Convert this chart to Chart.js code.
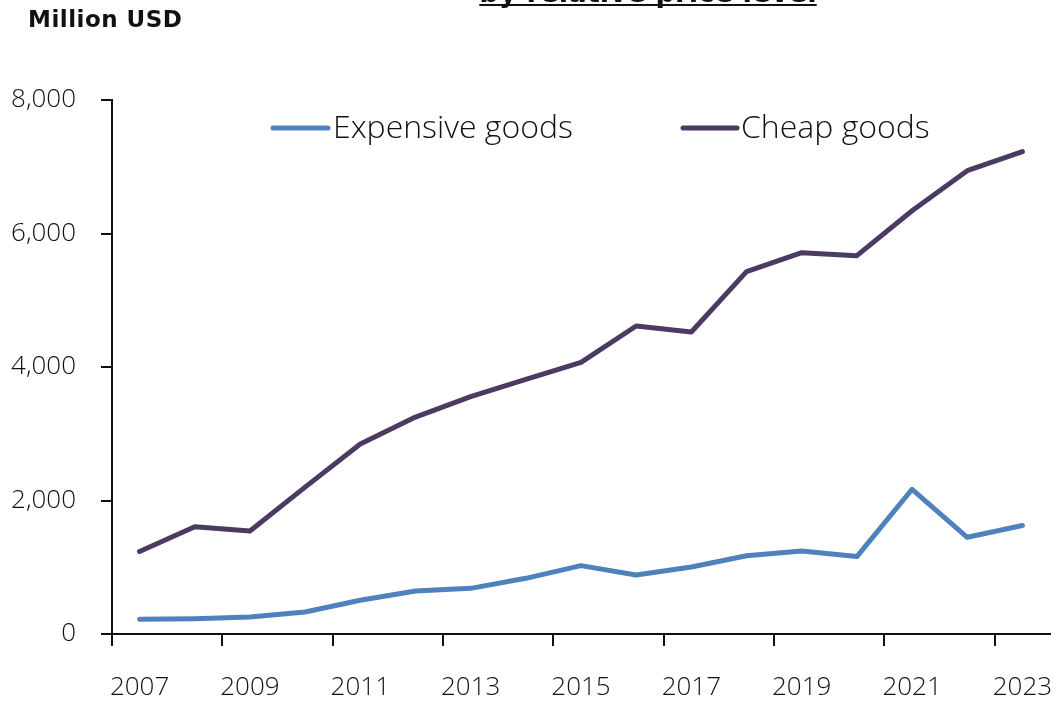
<!DOCTYPE html>
<html>
<head>
<meta charset="utf-8">
<script src="https://cdn.jsdelivr.net/npm/chart.js@4/dist/chart.umd.min.js"></script>
<style>
  html, body { margin: 0; padding: 0; background: #ffffff; }
  #wrap { position: relative; width: 1056px; height: 702px; }
</style>
</head>
<body>
<div id="wrap"><canvas id="c" width="1056" height="702"></canvas></div>
<script>
// Yearly import values (million USD), split by relative price level
const years = ['2007','2008','2009','2010','2011','2012','2013','2014','2015',
               '2016','2017','2018','2019','2020','2021','2022','2023'];
const expensiveGoods = [220, 230, 255, 330, 505, 644, 684, 834, 1024,
                        884, 1004, 1173, 1243, 1160, 2168, 1449, 1625];
const cheapGoods = [1235, 1607, 1543, 2200, 2846, 3250, 3555, 3816, 4070,
                    4614, 4525, 5428, 5713, 5668, 6340, 6941, 7226];
const yTicks = [0, 2000, 4000, 6000, 8000];

const seriesNames = ['Expensive goods', 'Cheap goods'];
const seriesColors = ['#4F81BD', '#4B3A62'];

const FONT = '"Open Sans", "Noto Sans", sans-serif';
const BOLD_FONT = '"DejaVu Sans", "Open Sans", sans-serif';
const INK = '#111111';

// Heading line, unit caption and inline legend drawn on the canvas
const decorations = {
  id: 'decorations',
  afterDraw(chart) {
    const ctx = chart.ctx;
    ctx.save();
    // heading (runs off the top edge of the canvas)
    ctx.font = 'bold 27.5px ' + BOLD_FONT;
    ctx.fillStyle = INK;
    ctx.textAlign = 'center';
    ctx.textBaseline = 'alphabetic';
    const title = 'by relative price level';
    const tx = 648, ty = 2;
    ctx.fillText(title, tx, ty);
    const tw = ctx.measureText(title).width;
    ctx.fillRect(tx - tw / 2, 4, tw, 2);

    // unit caption
    ctx.font = 'bold 23px ' + BOLD_FONT;
    ctx.textAlign = 'left';
    if ('letterSpacing' in ctx) ctx.letterSpacing = '0.5px';
    ctx.fillText('Million USD', 28, 27);
    if ('letterSpacing' in ctx) ctx.letterSpacing = '0px';

    // legend
    const items = [
      { x0: 273, x1: 328, tx: 333 },
      { x0: 683, x1: 737, tx: 741 }
    ];
    const ly = 128;
    ctx.font = '300 32px ' + FONT;
    ctx.textBaseline = 'middle';
    chart.data.datasets.forEach((ds, i) => {
      const it = items[i];
      ctx.strokeStyle = ds.borderColor;
      ctx.lineWidth = 5;
      ctx.lineCap = 'round';
      ctx.beginPath();
      ctx.moveTo(it.x0, ly);
      ctx.lineTo(it.x1, ly);
      ctx.stroke();
      ctx.fillStyle = INK;
      ctx.fillText(ds.label, it.tx, ly + 1);
    });
    ctx.restore();
  }
};

new Chart(document.getElementById('c'), {
  type: 'line',
  data: {
    labels: years,
    datasets: [
      { label: seriesNames[0], data: expensiveGoods, borderColor: seriesColors[0],
        backgroundColor: seriesColors[0], borderWidth: 5, pointRadius: 0,
        borderCapStyle: 'round', borderJoinStyle: 'round', tension: 0 },
      { label: seriesNames[1], data: cheapGoods, borderColor: seriesColors[1],
        backgroundColor: seriesColors[1], borderWidth: 5, pointRadius: 0,
        borderCapStyle: 'round', borderJoinStyle: 'round', tension: 0 }
    ]
  },
  options: {
    responsive: false,
    animation: false,
    devicePixelRatio: 1,
    layout: { padding: { top: 100, right: 6, bottom: 0, left: 0 } },
    plugins: {
      legend: { display: false },
      title: { display: false },
      tooltip: { enabled: false }
    },
    scales: {
      x: {
        type: 'category',
        offset: true,
        border: { display: true, color: INK, width: 2 },
        grid: {
          offset: true,
          drawOnChartArea: false,
          drawTicks: true,
          tickLength: 12,
          lineWidth: 2,
          color: (ctx) => (ctx.index % 2 === 0 ? INK : 'rgba(0,0,0,0)')
        },
        ticks: {
          autoSkip: false,
          maxRotation: 0,
          padding: 26,
          color: INK,
          font: { family: FONT, size: 26, weight: 300 },
          callback: function (v, i) { return i % 2 === 0 ? this.getLabelForValue(v) : ''; }
        },
        afterFit(scale) {
          scale.height = 702 - 634;
          scale.paddingLeft = 0;
          scale.paddingRight = 0;
        }
      },
      y: {
        min: 0,
        max: 8000,
        afterBuildTicks(scale) { scale.ticks = yTicks.map(v => ({ value: v })); },
        border: { display: true, color: INK, width: 2 },
        grid: {
          drawOnChartArea: false,
          drawTicks: true,
          tickLength: 11,
          lineWidth: 2,
          color: INK
        },
        ticks: {
          padding: 25,
          color: INK,
          font: { family: FONT, size: 26, weight: 300 },
          callback: (v) => v.toLocaleString('en-US')
        },
        afterFit(scale) { scale.width = 112; }
      }
    }
  },
  plugins: [decorations]
});
</script>
</body>
</html>
